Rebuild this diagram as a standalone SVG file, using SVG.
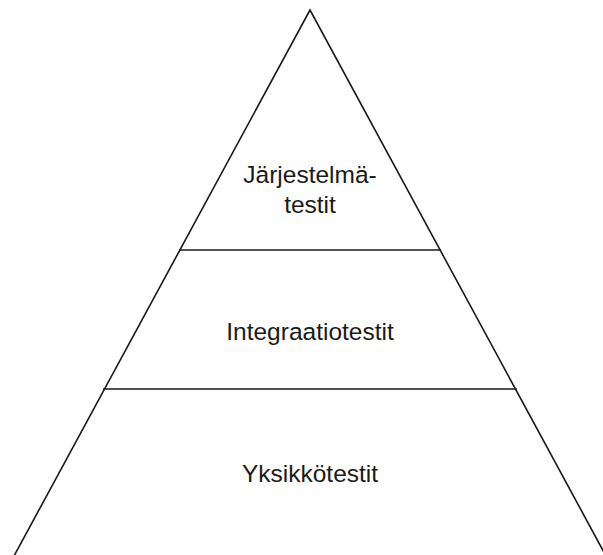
<svg xmlns="http://www.w3.org/2000/svg" width="603" height="555" viewBox="0 0 603 555">
  <style>
    .edge { fill: none; stroke: #1a1a1a; stroke-width: 1.6; stroke-linejoin: miter; }
    .lbl { font-family: "Liberation Sans", Arial, sans-serif; font-size: 24.5px; fill: #1a1a1a; text-anchor: middle; }
  </style>
  <rect width="603" height="555" fill="#ffffff"/>
  <!-- pyramid outline -->
  <path class="edge" d="M 14 556 L 310 10 L 606 556"/>
  <!-- level dividers -->
  <g id="dividers">
    <line class="edge" x1="179" y1="250" x2="441" y2="250"/>
    <line class="edge" x1="103" y1="389" x2="517" y2="389"/>
  </g>
  <g id="jarjestelmatestit">
    <text class="lbl" x="310" y="183">Järjestelmä-</text>
    <text class="lbl" x="310" y="213">testit</text>
  </g>
  <g id="integraatiotestit">
    <text class="lbl" x="310" y="340">Integraatiotestit</text>
  </g>
  <g id="yksikkotestit">
    <text class="lbl" x="310" y="482">Yksikkötestit</text>
  </g>
</svg>
